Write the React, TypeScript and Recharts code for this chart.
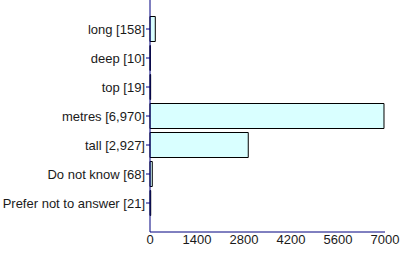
import { Bar, BarChart, XAxis, YAxis } from "recharts";

const answers = ["long", "deep", "top", "metres", "tall", "Do not know", "Prefer not to answer"];
const counts = [158, 10, 19, 6970, 2927, 68, 21];
const xTicks = [0, 1400, 2800, 4200, 5600, 7000];

const rows = answers.map((a, i) => ({
  label: `${a} [${counts[i].toLocaleString("en-US")}]`,
  count: counts[i],
}));

const axisColor = "#000080";
const font = "Liberation Sans, Arial, sans-serif";
const tickStyle = { fill: "#1a1a1a", fontSize: 13, fontFamily: font };

function CategoryTick(props: any) {
  const { x, y, payload } = props;
  return (
    <text x={x} y={y} dy="0.36em" textAnchor="end" fill="#1a1a1a" fontSize={13} fontFamily={font}>
      {payload.value}
    </text>
  );
}

export default function App() {
  return (
    <div style={{ position: "absolute", left: 0, top: 0, width: 400, height: 254, background: "#fff" }}>
      <BarChart
        width={400}
        height={254}
        data={rows}
        layout="vertical"
        margin={{ top: 0, right: 15, bottom: 0, left: 0 }}
      >
        <XAxis
          type="number"
          dataKey="count"
          domain={[0, 7000]}
          ticks={xTicks}
          interval={0}
          height={22}
          stroke={axisColor}
          tickLine={false}
          tickSize={2}
          tickMargin={1}
          tick={tickStyle}
        />
        <YAxis
          type="category"
          dataKey="label"
          width={150}
          padding={{ top: 14.5, bottom: 14.5 }}
          stroke={axisColor}
          tickSize={4}
          tickMargin={1}
          interval={0}
          tick={<CategoryTick />}
        />
        <Bar
          dataKey="count"
          fill="#d9ffff"
          stroke="#000"
          strokeWidth={1}
          barSize={25}
          isAnimationActive={false}
        />
      </BarChart>
    </div>
  );
}
